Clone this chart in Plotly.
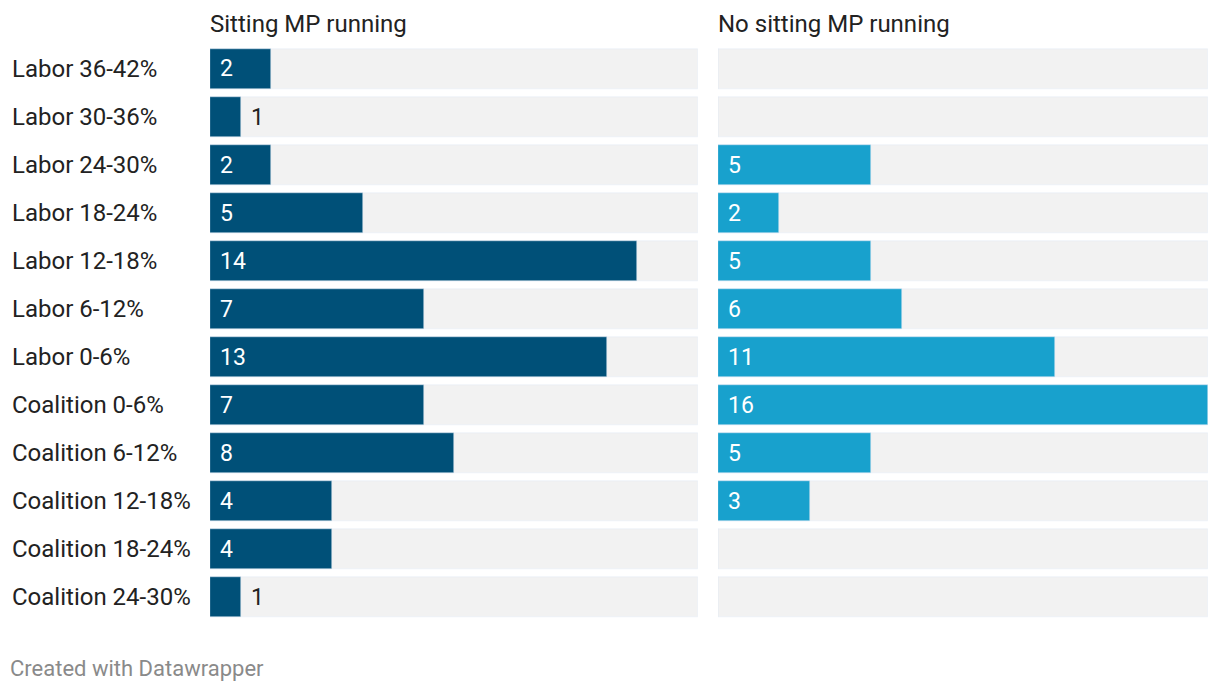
import plotly.graph_objects as go

categories = ["Labor 36-42%", "Labor 30-36%", "Labor 24-30%", "Labor 18-24%", "Labor 12-18%",
              "Labor 6-12%", "Labor 0-6%", "Coalition 0-6%", "Coalition 6-12%",
              "Coalition 12-18%", "Coalition 18-24%", "Coalition 24-30%"]
sitting = [2, 1, 2, 5, 14, 7, 13, 7, 8, 4, 4, 1]
no_sitting = [None, None, 5, 2, 5, 6, 11, 16, 5, 3, None, None]
panel_titles = ["Sitting MP running", "No sitting MP running"]
x_max = 16

W, H = 1220, 692
OFF = 8  # page body margin
FONT = "Roboto"
dark = "#005078"
light = "#18a1cd"
bg = "#f2f2f2"
txt = "#222222"


def px(v):
    return (v - OFF) / W


def py(v):
    return 1 - (v - OFF) / H


fig = go.Figure()
idx = list(range(len(categories)))

for series, color, xa in [(sitting, dark, "x"), (no_sitting, light, "x2")]:
    fig.add_trace(go.Bar(y=idx, x=[x_max] * len(idx), orientation="h", marker_color=bg,
                         width=40 / 48, xaxis=xa, yaxis="y", hoverinfo="skip", showlegend=False))
    fig.add_trace(go.Bar(y=idx, x=[v if v is not None else 0 for v in series], orientation="h",
                         marker_color=color, width=40 / 48, xaxis=xa, yaxis="y",
                         showlegend=False))

annotations = []
for series, xref in [(sitting, "x"), (no_sitting, "x2")]:
    for i, v in enumerate(series):
        if v is None:
            continue
        inside = v >= 2
        annotations.append(dict(
            x=0 if inside else v, y=i, xref=xref, yref="y", text=str(v), showarrow=False,
            xanchor="left", xshift=8, font=dict(family=FONT, size=23, color="white" if inside else txt)))

for i, c in enumerate(categories):
    annotations.append(dict(x=px(10), y=i, xref="paper", yref="y", text=c, showarrow=False,
                            xanchor="left", font=dict(family=FONT, size=24, color=txt)))

for t, x0 in zip(panel_titles, [208, 716]):
    annotations.append(dict(x=px(x0), y=py(24), xref="paper", yref="paper", text=t,
                            showarrow=False, xanchor="left", yanchor="middle",
                            font=dict(family=FONT, size=24, color=txt)))

annotations.append(dict(x=px(8), y=py(668), xref="paper", yref="paper",
                        text="Created with Datawrapper", showarrow=False, xanchor="left",
                        yanchor="middle", font=dict(family=FONT, size=22, color="#8a8a8a")))

fig.update_layout(
    width=W, height=H, margin=dict(l=0, r=0, t=0, b=0), barmode="overlay",
    plot_bgcolor="white", paper_bgcolor="white",
    xaxis=dict(domain=[px(210), px(698)], range=[0, x_max], visible=False, fixedrange=True),
    xaxis2=dict(domain=[px(718), px(1208)], range=[0, x_max], visible=False, fixedrange=True),
    yaxis=dict(domain=[py(621), py(45)], range=[len(categories) - 0.5, -0.5],
               visible=False, fixedrange=True),
    annotations=annotations, bargap=0,
)

fig.write_html("out.html")
